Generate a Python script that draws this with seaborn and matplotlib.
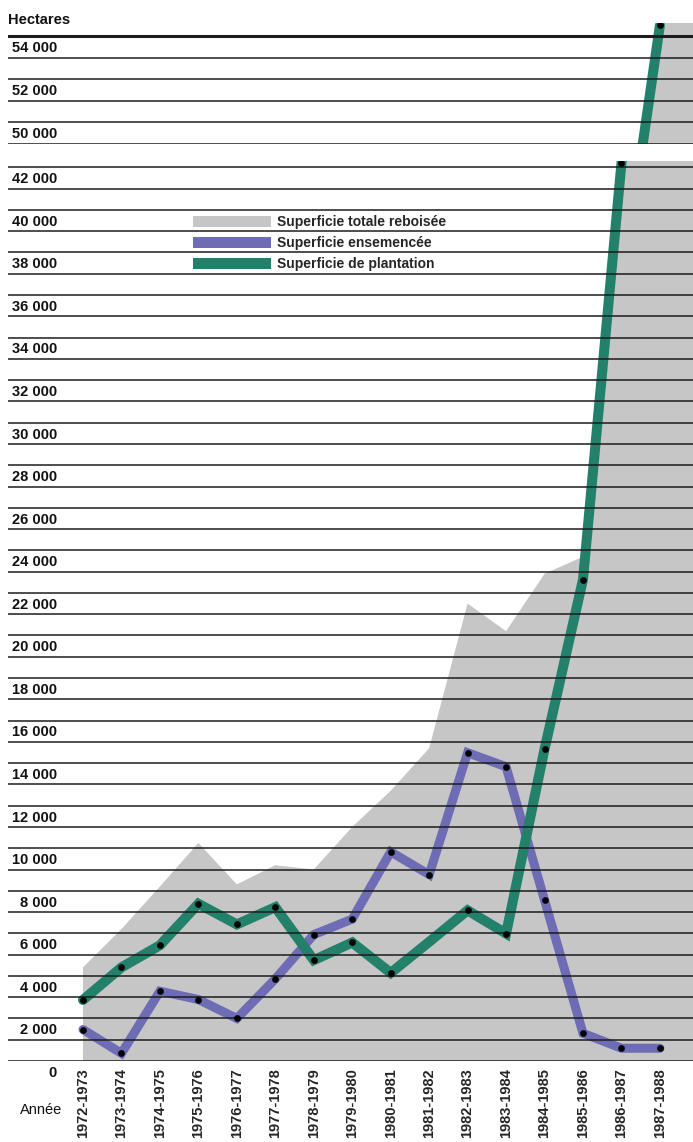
import numpy as np
import pandas as pd
import seaborn as sns
import matplotlib.pyplot as plt
from matplotlib.patches import Patch

# data (hectares)
years = ["1972-1973", "1973-1974", "1974-1975", "1975-1976", "1976-1977", "1977-1978",
         "1978-1979", "1979-1980", "1980-1981", "1981-1982", "1982-1983", "1983-1984",
         "1984-1985", "1985-1986", "1986-1987", "1987-1988"]
total = [4400, 6200, 8200, 10250, 8300, 9200, 9000, 11000, 12700, 14700,
         21500, 20200, 22900, 23700, 43500, 55100]
seeded = [1480, 360, 3280, 2890, 2000, 3860, 5940, 6670, 9830, 8760,
          14490, 13830, 7560, 1300, 600, 600]
planted = [2870, 4400, 5440, 7390, 6420, 7230, 4740, 5570, 4140, 5600,
           7080, 5990, 14660, 22630, 42200, 54500]

legend_labels = ["Superficie totale reboisée", "Superficie ensemencée", "Superficie de plantation"]

GRAY = "#c6c6c6"
BLUE = "#6e6cb4"
GREEN = "#23806a"

df = pd.DataFrame({"year": years, "total": total, "seeded": seeded, "planted": planted})
df["pos"] = np.arange(len(df))
green_dots = df[df["year"] != "1981-1982"]

sns.set_theme(style="white")
plt.rcParams['font.family'] = ['Liberation Sans', 'DejaVu Sans']

W, H = 693, 1142
fig = plt.figure(figsize=(W / 100, H / 100), dpi=100)
fig.patch.set_facecolor("white")

left = 8 / W
width = 1 - left
ax_top = fig.add_axes([left, (H - 144) / H, width, (144 - 22.7) / H])
ax_bot = fig.add_axes([left, (H - 1061) / H, width, (1061 - 161) / H])

XMAX = 15.86

for ax in (ax_top, ax_bot):
    # the grey area runs on to the right edge of the page at its last level
    fx = list(df["pos"]) + [XMAX]
    fy = list(df["total"]) + [df["total"].iloc[-1]]
    ax.fill_between(fx, fy, color=GRAY, lw=0, zorder=1)
    sns.lineplot(data=df, x="pos", y="seeded", ax=ax, color=BLUE, lw=6.5,
                 solid_joinstyle="miter", zorder=2)
    sns.lineplot(data=df, x="pos", y="planted", ax=ax, color=GREEN, lw=7.2,
                 solid_joinstyle="miter", zorder=2)
    sns.scatterplot(data=df, x="pos", y="seeded", ax=ax, color="black", s=20,
                    edgecolor=None, zorder=4)
    sns.scatterplot(data=green_dots, x="pos", y="planted", ax=ax, color="black", s=20,
                    edgecolor=None, zorder=4)
    ax.set_xlim(-1.95, XMAX)
    ax.set_xlabel("")
    ax.set_ylabel("")
    for s in ax.spines.values():
        s.set_visible(False)
    ax.yaxis.grid(True, color="#1c1c1c", lw=1.1)
    ax.set_axisbelow(False)
    ax.tick_params(axis="y", length=0, labelleft=False)
    ax.set_facecolor("none")

# lower part of the broken axis
ax_bot.set_ylim(0, 42300)
ax_bot.set_yticks(np.arange(0, 42001, 1000))
ax_bot.set_xticks(df["pos"])
ax_bot.set_xticklabels(years, rotation=90, fontweight="bold", fontsize=10.5)
ax_bot.tick_params(axis="x", length=0, pad=5)

# upper part
ax_top.set_ylim(49000, 54620)
ax_top.set_yticks(np.arange(49000, 54001, 1000))
ax_top.set_xticks([])
ax_top.get_ygridlines()[-1].set_linewidth(2.2)

label_x = (57 - 8) / (W - 8)
for ax, vals in ((ax_bot, range(0, 42001, 2000)), (ax_top, range(50000, 54001, 2000))):
    for v in vals:
        ax.annotate(f"{v:,}".replace(",", " "), xy=(label_x, v),
                    xycoords=("axes fraction", "data"), xytext=(0, -3.5),
                    textcoords="offset points", ha="right", va="top",
                    fontweight="bold", fontsize=10.5, color="#111111", annotation_clip=False)

fig.text(8 / W, 1 - 20 / H, "Hectares", ha="left", va="center",
         fontweight="bold", fontsize=10.5, color="#111111")
fig.text(62 / W, 1 - 1110 / H, "Année", ha="right", va="center",
         fontsize=10.5, color="#111111")

handles = [Patch(facecolor=c, edgecolor="none") for c in (GRAY, BLUE, GREEN)]
fig.legend(handles, legend_labels, loc="upper left",
           bbox_to_anchor=(193 / W, 1 - 215 / H), bbox_transform=fig.transFigure,
           frameon=False, borderpad=0, borderaxespad=0,
           handlelength=5.6, handleheight=0.85, handletextpad=0.45, labelspacing=0.5,
           prop={"weight": "bold", "size": 10})

fig.savefig("out.png", dpi=100, facecolor="white")
